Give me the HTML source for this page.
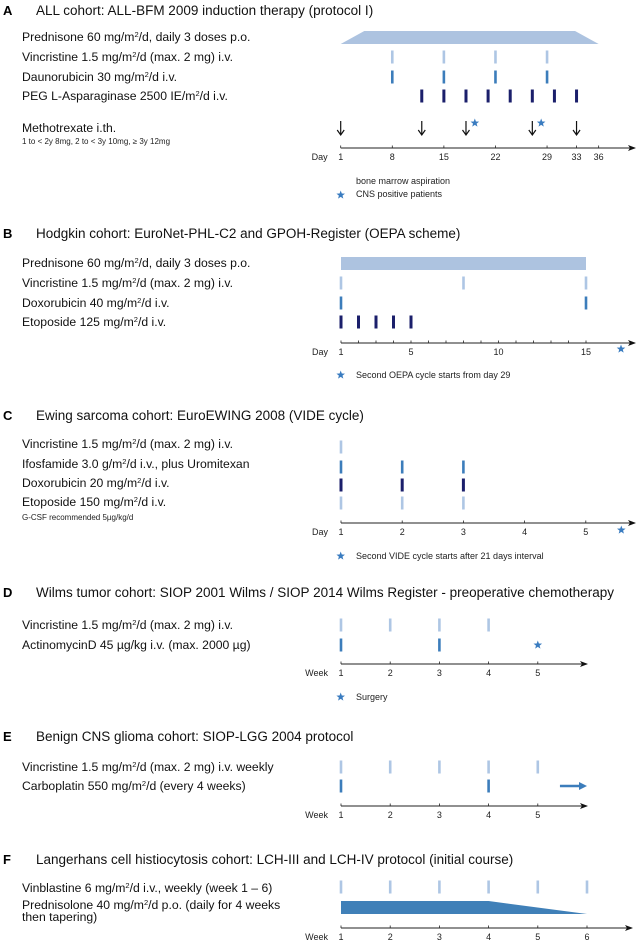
<!DOCTYPE html>
<html><head><meta charset="utf-8"><style>
body{margin:0;background:#fff;}
svg{display:block;font-family:"Liberation Sans",sans-serif;}
.t{font-size:13.5px;fill:#111;}
.l{font-size:12.2px;fill:#111;}
.s{font-size:8px;fill:#222;}
.k{font-size:9px;fill:#222;}
.L{font-size:13px;font-weight:bold;fill:#000;}
</style></head><body>
<svg id="c" width="636" height="943" viewBox="0 0 636 943">
<defs><marker id="ah" markerWidth="8" markerHeight="6" refX="7" refY="3" orient="auto"><path d="M0,0 L8,3 L0,6 L2,3z" fill="#111"/></marker></defs>
<g>
<text class="L" x="3" y="15">A</text>
<text class="t" x="36" y="15">ALL cohort: ALL-BFM 2009 induction therapy (protocol I)</text>
<text class="l" x="22" y="41">Prednisone 60 mg/m<tspan dy="-4" font-size="7.5">2</tspan><tspan dy="4">/d, daily 3 doses p.o.</tspan></text>
<text class="l" x="22" y="61">Vincristine 1.5 mg/m<tspan dy="-4" font-size="7.5">2</tspan><tspan dy="4">/d (max. 2 mg) i.v.</tspan></text>
<text class="l" x="22" y="81">Daunorubicin 30 mg/m<tspan dy="-4" font-size="7.5">2</tspan><tspan dy="4">/d i.v.</tspan></text>
<text class="l" x="22" y="100">PEG L-Asparaginase 2500 IE/m<tspan dy="-4" font-size="7.5">2</tspan><tspan dy="4">/d i.v.</tspan></text>
<text class="l" x="22" y="132">Methotrexate i.th.</text>
<text class="s" x="22" y="144">1 to &lt; 2y 8mg, 2 to &lt; 3y 10mg, ≥ 3y 12mg</text>
<text class="k" x="356" y="184">bone marrow aspiration</text>
<text class="k" x="356" y="197">CNS positive patients</text>
</g>
<g>
<text class="L" x="3" y="238">B</text>
<text class="t" x="36" y="238">Hodgkin cohort: EuroNet-PHL-C2 and GPOH-Register (OEPA scheme)</text>
<text class="l" x="22" y="267">Prednisone 60 mg/m<tspan dy="-4" font-size="7.5">2</tspan><tspan dy="4">/d, daily 3 doses p.o.</tspan></text>
<text class="l" x="22" y="287">Vincristine 1.5 mg/m<tspan dy="-4" font-size="7.5">2</tspan><tspan dy="4">/d (max. 2 mg) i.v.</tspan></text>
<text class="l" x="22" y="307">Doxorubicin 40 mg/m<tspan dy="-4" font-size="7.5">2</tspan><tspan dy="4">/d i.v.</tspan></text>
<text class="l" x="22" y="326">Etoposide 125 mg/m<tspan dy="-4" font-size="7.5">2</tspan><tspan dy="4">/d i.v.</tspan></text>
<text class="k" x="356" y="378">Second OEPA cycle starts from day 29</text>
</g>
<g>
<text class="L" x="3" y="420">C</text>
<text class="t" x="36" y="420">Ewing sarcoma cohort: EuroEWING 2008 (VIDE cycle)</text>
<text class="l" x="22" y="448">Vincristine 1.5 mg/m<tspan dy="-4" font-size="7.5">2</tspan><tspan dy="4">/d (max. 2 mg) i.v.</tspan></text>
<text class="l" x="22" y="468">Ifosfamide 3.0 g/m<tspan dy="-4" font-size="7.5">2</tspan><tspan dy="4">/d i.v., plus Uromitexan</tspan></text>
<text class="l" x="22" y="487">Doxorubicin 20 mg/m<tspan dy="-4" font-size="7.5">2</tspan><tspan dy="4">/d i.v.</tspan></text>
<text class="l" x="22" y="506">Etoposide 150 mg/m<tspan dy="-4" font-size="7.5">2</tspan><tspan dy="4">/d i.v.</tspan></text>
<text class="s" x="22" y="520">G-CSF recommended 5µg/kg/d</text>
<text class="k" x="356" y="559">Second VIDE cycle starts after 21 days interval</text>
</g>
<g>
<text class="L" x="3" y="597">D</text>
<text class="t" x="36" y="597">Wilms tumor cohort: SIOP 2001 Wilms / SIOP 2014 Wilms Register - preoperative chemotherapy</text>
<text class="l" x="22" y="629">Vincristine 1.5 mg/m<tspan dy="-4" font-size="7.5">2</tspan><tspan dy="4">/d (max. 2 mg) i.v.</tspan></text>
<text class="l" x="22" y="649">ActinomycinD 45 µg/kg i.v. (max. 2000 µg)</text>
<text class="k" x="356" y="700">Surgery</text>
</g>
<g>
<text class="L" x="3" y="741">E</text>
<text class="t" x="36" y="741">Benign CNS glioma cohort: SIOP-LGG 2004 protocol</text>
<text class="l" x="22" y="771">Vincristine 1.5 mg/m<tspan dy="-4" font-size="7.5">2</tspan><tspan dy="4">/d (max. 2 mg) i.v. weekly</tspan></text>
<text class="l" x="22" y="790">Carboplatin 550 mg/m<tspan dy="-4" font-size="7.5">2</tspan><tspan dy="4">/d (every 4 weeks)</tspan></text>
</g>
<g>
<text class="L" x="3" y="864">F</text>
<text class="t" x="36" y="864">Langerhans cell histiocytosis cohort: LCH-III and LCH-IV protocol (initial course)</text>
<text class="l" x="22" y="892">Vinblastine 6 mg/m<tspan dy="-4" font-size="7.5">2</tspan><tspan dy="4">/d i.v., weekly (week 1 – 6)</tspan></text>
<text class="l" x="22" y="909">Prednisolone 40 mg/m<tspan dy="-4" font-size="7.5">2</tspan><tspan dy="4">/d p.o. (daily for 4 weeks</tspan></text>
<text class="l" x="22" y="921">then tapering)</text>
</g>
<g id="marks"></g>
</svg>
<script>
// Panel A (days)
const aTicks=[1,8,15,22,29,33,36];
const aPredDays=[1,4.2,32.8,36];
const aVinDays=[8,15,22,29];
const aDauDays=[8,15,22,29];
const aPegDays=[12,15,18,21,24,27,30,33];
const aMtxDays=[1,12,18,27,33];
const aCnsDays=[19.2,28.2];
// Panel B (days)
const bTicks=[1,5,10,15];
const bMinor=[1,2,3,4,5,6,7,8,9,10,11,12,13,14,15];
const bPredDays=[1,15];
const bVinDays=[1,8,15];
const bDoxDays=[1,15];
const bEtoDays=[1,2,3,4,5];
const bNextDay=[17];
// Panel C (days)
const cTicks=[1,2,3,4,5];
const cVinDays=[1];
const cIfoDays=[1,2,3];
const cDoxDays=[1,2,3];
const cEtoDays=[1,2,3];
const cNextDay=[5.58];
// Panel D (weeks)
const dTicks=[1,2,3,4,5];
const dVinWeeks=[1,2,3,4];
const dActWeeks=[1,3];
const dSurgeryWeek=[5];
// Panel E (weeks)
const eTicks=[1,2,3,4,5];
const eVinWeeks=[1,2,3,4,5];
const eCarWeeks=[1,4];
const eContinueWeeks=[5.45,6.0];
// Panel F (weeks)
const fTicks=[1,2,3,4,5,6];
const fVinWeeks=[1,2,3,4,5,6];
const fPredWeeks=[1,4,6];

const NS='http://www.w3.org/2000/svg';
const G=document.getElementById('marks');
const LIGHT='#aec6e4',MED='#3c7dbb',NAVY='#1b1f6b',STAR='#3a7cc0';
function mk(tag,attrs){const e=document.createElementNS(NS,tag);for(const k in attrs)e.setAttribute(k,attrs[k]);G.appendChild(e);return e;}
function scale(x0,step){return v=>x0+(v-1)*step;}
const xA=scale(340.7,7.37), xB=scale(341,17.5), xC=scale(341,61.2), xW=scale(341,49.2);

function bars(arr,xs,cy,color,w,name){
  arr.forEach(v=>{
    const r=mk('rect',{x:xs(v)-w/2,y:cy-6.5,width:w,height:13,fill:color});
    
    
  });
}
function axis(ticks,minor,xs,y,end,unitLabel,name){
  const l=mk('line',{x1:xs(ticks[0]),y1:y,x2:end,y2:y,stroke:'#222','stroke-width':1,'marker-end':'url(#ah)'});
  
  
  minor.forEach(v=>{const t=mk('line',{x1:xs(v),y1:y-2.5,x2:xs(v),y2:y,stroke:'#222','stroke-width':0.8});
    
    });
  ticks.forEach(v=>{const t=mk('text',{x:xs(v),y:y+12,'text-anchor':'middle','class':'k'});t.textContent=v;
    
    });
  const u=mk('text',{x:xs(ticks[0])-13,y:y+12,'text-anchor':'end','class':'k'});u.textContent=unitLabel;
  
  
}
function star(cx,cy,r,name){
  let p='';for(let i=0;i<10;i++){const a=-Math.PI/2+i*Math.PI/5;const rr=i%2?r*0.42:r;p+=(i?'L':'M')+(cx+rr*Math.cos(a)).toFixed(2)+','+(cy+rr*Math.sin(a)).toFixed(2);}
  const s=mk('path',{d:p+'Z',fill:STAR});
  
  
}
function downArrow(x,y1,y2,name){
  const g=mk('path',{d:`M${x},${y1} L${x},${y2} M${x-3.5},${y2-5} L${x},${y2} L${x+3.5},${y2-5}`,stroke:'#111','stroke-width':1.2,fill:'none'});
  
  
}

// Panel A
const tr=mk('polygon',{points:`${xA(aPredDays[0])},44 ${xA(aPredDays[1])},31 ${xA(aPredDays[2])},31 ${xA(aPredDays[3])},44`,fill:'#adc3e0'});


bars(aVinDays,xA,57,LIGHT,2.6,'vincristine-a-dose');
bars(aDauDays,xA,77,MED,2.6,'daunorubicin-dose');
bars(aPegDays,xA,96,NAVY,3,'peg-asparaginase-dose');
aMtxDays.forEach(d=>downArrow(xA(d),121,135,'methotrexate-dose-arrow'));
aCnsDays.forEach(d=>star(xA(d),123,4.5,'cns-positive-star'));
axis(aTicks,aTicks,xA,148,635,'Day','panel-a');
star(340.7,195,4.5,'legend-star-a');

// Panel B
const pb=mk('rect',{x:xB(bPredDays[0]),y:257,width:xB(bPredDays[1])-xB(bPredDays[0]),height:13,fill:'#adc3e0'});


bars(bVinDays,xB,283,LIGHT,2.6,'vincristine-b-dose');
bars(bDoxDays,xB,303,MED,2.6,'doxorubicin-b-dose');
bars(bEtoDays,xB,322,NAVY,3,'etoposide-b-dose');
axis(bTicks,bMinor,xB,343,635,'Day','panel-b');
bNextDay.forEach(d=>star(xB(d),349,4.5,'next-cycle-star-b'));
star(340.7,375,4.5,'legend-star-b');

// Panel C
bars(cVinDays,xC,447,LIGHT,2.6,'vincristine-c-dose');
bars(cIfoDays,xC,467,MED,2.6,'ifosfamide-dose');
bars(cDoxDays,xC,485,NAVY,3,'doxorubicin-c-dose');
bars(cEtoDays,xC,503,LIGHT,2.6,'etoposide-c-dose');
axis(cTicks,cTicks,xC,523,635,'Day','panel-c');
cNextDay.forEach(d=>star(xC(d),530,4.5,'next-cycle-star-c'));
star(340.7,556,4.5,'legend-star-c');

// Panel D
bars(dVinWeeks,xW,625,LIGHT,2.6,'vincristine-d-dose');
bars(dActWeeks,xW,645,MED,2.6,'actinomycin-dose');
dSurgeryWeek.forEach(w=>star(xW(w),645,4.5,'surgery-star'));
axis(dTicks,dTicks,xW,664,587,'Week','panel-d');
star(340.7,697,4.5,'legend-star-d');

// Panel E
bars(eVinWeeks,xW,767,LIGHT,2.6,'vincristine-e-dose');
bars(eCarWeeks,xW,786,MED,2.6,'carboplatin-dose');
const ca=mk('path',{d:`M${xW(eContinueWeeks[0])},786 L${xW(eContinueWeeks[1])-6},786`,stroke:MED,'stroke-width':2.4,fill:'none'});


const ch=mk('path',{d:`M${xW(eContinueWeeks[1])-8},782 L${xW(eContinueWeeks[1])},786 L${xW(eContinueWeeks[1])-8},790Z`,fill:MED});


axis(eTicks,eTicks,xW,806,587,'Week','panel-e');

// Panel F
bars(fVinWeeks,xW,887,LIGHT,2.6,'vinblastine-dose');
const pf=mk('polygon',{points:`${xW(fPredWeeks[0])},901 ${xW(fPredWeeks[1])},901 ${xW(fPredWeeks[2])},914 ${xW(fPredWeeks[0])},914`,fill:'#4080b8'});


axis(fTicks,fTicks,xW,928,632,'Week','panel-f');
</script>
</body></html>
